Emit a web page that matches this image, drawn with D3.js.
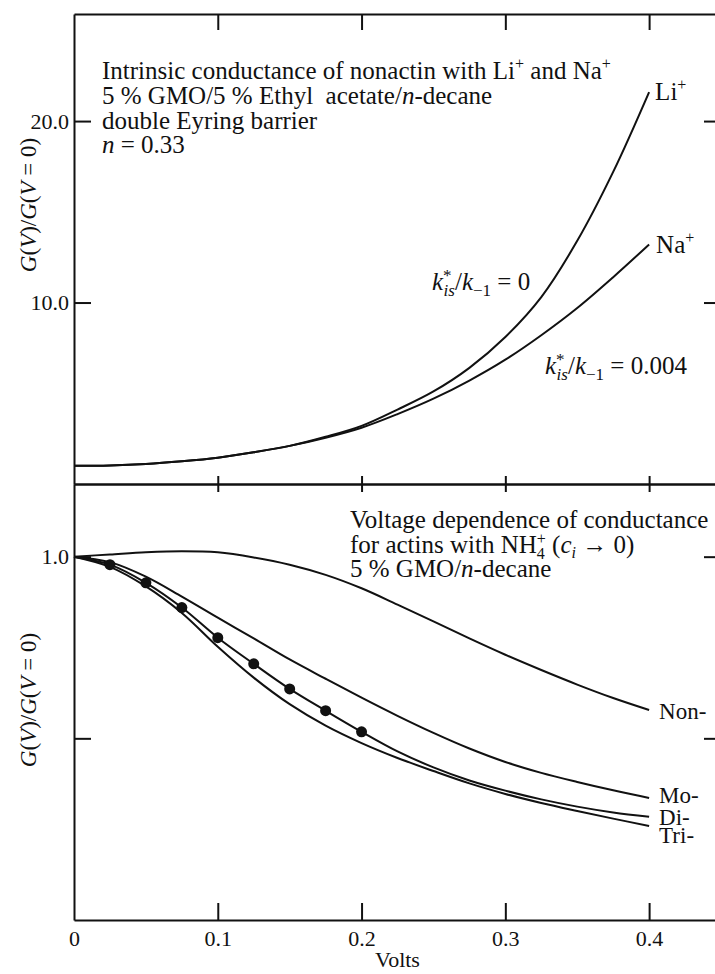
<!DOCTYPE html>
<html>
<head>
<meta charset="utf-8">
<script src="https://cdn.jsdelivr.net/npm/d3@7"></script>
<style>
  body { margin: 0; background: #fff; }
  svg { display: block; font-family: "Liberation Serif", "DejaVu Serif", serif; }
  .axis path, .axis line { stroke: #111; stroke-width: 2; }
  .axis text { font-family: "Liberation Serif", serif; fill: #111; }
  .curve { fill: none; stroke: #111; stroke-width: 2; }
</style>
</head>
<body>
<svg id="chart" width="715" height="974"></svg>
<script>
'use strict';

// voltage grid shared by all curves (volts)
var volts = [0, 0.025, 0.05, 0.075, 0.1, 0.125, 0.15, 0.175, 0.2,
             0.225, 0.25, 0.275, 0.3, 0.325, 0.35, 0.375, 0.4];

// upper panel: nonactin, G(V)/G(V=0)
var liG = [1.0, 1.02, 1.1, 1.25, 1.45, 1.75, 2.1, 2.6, 3.2, 4.1, 5.1, 6.4, 8.1, 10.3, 13.4, 17.2, 21.6];
var naG = [1.0, 1.02, 1.1, 1.25, 1.45, 1.75, 2.1, 2.55, 3.1, 3.85, 4.7, 5.7, 6.85, 8.2, 9.7, 11.4, 13.2];

// lower panel: actins with NH4+
var nonG  = [1.0, 1.006, 1.012, 1.015, 1.012, 0.998, 0.978, 0.95, 0.913, 0.868, 0.822, 0.775, 0.73, 0.688, 0.648, 0.611, 0.578];
var monoG = [1.0, 0.985, 0.945, 0.89, 0.832, 0.775, 0.717, 0.664, 0.612, 0.562, 0.515, 0.472, 0.435, 0.405, 0.38, 0.357, 0.336];
var diG   = [1.0, 0.978, 0.928, 0.86, 0.777, 0.705, 0.636, 0.576, 0.518, 0.464, 0.42, 0.384, 0.356, 0.332, 0.312, 0.296, 0.284];
var triG  = [1.0, 0.972, 0.918, 0.845, 0.752, 0.667, 0.594, 0.535, 0.487, 0.446, 0.41, 0.376, 0.347, 0.322, 0.3, 0.279, 0.259];

// measured points on the dinactin curve
var dotV = [0.025, 0.05, 0.075, 0.1, 0.125, 0.15, 0.175, 0.2];
var dotG = [0.978, 0.928, 0.86, 0.777, 0.705, 0.636, 0.576, 0.518];

var xTicks = [0, 0.1, 0.2, 0.3, 0.4];
var topTicks = [10, 20];
var botTicks = [0.5, 1.0];

var svg = d3.select("#chart");
svg.append("rect").attr("width", 715).attr("height", 974).attr("fill", "#fff");

// layout (px)
var plotL = 74, plotR = 721, plotT = 14, plotM = 484, plotB = 920;

var x = d3.scaleLinear().domain([0, 0.45]).range([plotL, plotR]);
var yTop = d3.scaleLinear().domain([0, 25.9]).range([plotM, plotT]);
var yBot = d3.scaleLinear().domain([0, 1.2]).range([plotB, plotM]);

function rich(sel, px, py, size, parts) {
  var t = sel.append("text").attr("x", px).attr("y", py)
    .attr("font-size", size).attr("fill", "#111");
  parts.forEach(function(p) {
    var ts = t.append("tspan").text(p.t);
    if (p.it) ts.attr("font-style", "italic");
    if (p.dy) ts.attr("dy", p.dy);
    if (p.dx) ts.attr("dx", p.dx);
    if (p.fs) ts.attr("font-size", p.fs);
  });
  return t;
}

// ---- axes / frame ----
var noLabel = function() { return ""; };

svg.append("g").attr("class", "axis").attr("transform", "translate(" + plotL + ",0)")
  .call(d3.axisLeft(yTop).tickValues(topTicks).tickSize(-17).tickSizeOuter(0)
        .tickPadding(5).tickFormat(d3.format(".1f")))
  .selectAll("text").attr("font-size", 22);

svg.append("g").attr("class", "axis").attr("transform", "translate(" + plotR + ",0)")
  .call(d3.axisRight(yTop).tickValues(topTicks).tickSize(-17).tickSizeOuter(0).tickFormat(noLabel));

svg.append("g").attr("class", "axis").attr("transform", "translate(0," + plotT + ")")
  .call(d3.axisTop(x).tickValues(xTicks.slice(1)).tickSize(-16).tickSizeOuter(0).tickFormat(noLabel));

svg.append("g").attr("class", "axis").attr("transform", "translate(0," + plotM + ")")
  .call(d3.axisBottom(x).tickValues(xTicks.slice(1)).tickSize(-8).tickSizeOuter(0).tickFormat(noLabel));

svg.append("g").attr("class", "axis").attr("transform", "translate(0," + plotM + ")")
  .call(d3.axisTop(x).tickValues(xTicks.slice(1)).tickSize(-8).tickSizeOuter(0).tickFormat(noLabel));

svg.append("g").attr("class", "axis").attr("transform", "translate(" + plotL + ",0)")
  .call(d3.axisLeft(yBot).tickValues(botTicks).tickSize(-17).tickSizeOuter(0)
        .tickPadding(5).tickFormat(function(d) { return d === 1 ? "1.0" : ""; }))
  .selectAll("text").attr("font-size", 22);

svg.append("g").attr("class", "axis").attr("transform", "translate(" + plotR + ",0)")
  .call(d3.axisRight(yBot).tickValues(botTicks).tickSize(-17).tickSizeOuter(0).tickFormat(noLabel));

var xAxis = svg.append("g").attr("class", "axis").attr("transform", "translate(0," + plotB + ")")
  .call(d3.axisBottom(x).tickValues(xTicks).tickSize(-17).tickSizeOuter(0).tickPadding(10)
        .tickFormat(function(d) { return d === 0 ? "0" : d3.format(".1f")(d); }));
xAxis.selectAll("text").attr("font-size", 22);
xAxis.selectAll(".tick").filter(function(d) { return d === 0; }).select("line").remove();

svg.append("text").attr("x", (plotL + plotR) / 2).attr("y", 967)
  .attr("text-anchor", "middle").attr("font-size", 22).attr("fill", "#111").text("Volts");

// rotated y titles
function yTitle(cy) {
  var g = svg.append("g").attr("transform", "translate(36," + cy + ") rotate(-90)");
  rich(g, 0, 0, 23, [
    {t: "G", it: true}, {t: "("}, {t: "V", it: true}, {t: ")/"},
    {t: "G", it: true}, {t: "("}, {t: "V", it: true}, {t: " = 0)"}
  ]).attr("text-anchor", "middle");
}
yTitle(205);
yTitle(700);

// ---- curves ----
var lineTop = d3.line().x(function(d) { return x(d[0]); }).y(function(d) { return yTop(d[1]); })
  .curve(d3.curveCatmullRom);
var lineBot = d3.line().x(function(d) { return x(d[0]); }).y(function(d) { return yBot(d[1]); })
  .curve(d3.curveCatmullRom);

[liG, naG].forEach(function(s) {
  svg.append("path").attr("class", "curve").attr("d", lineTop(d3.zip(volts, s)));
});
[nonG, monoG, diG, triG].forEach(function(s) {
  svg.append("path").attr("class", "curve").attr("d", lineBot(d3.zip(volts, s)));
});

svg.selectAll("circle.dot").data(d3.zip(dotV, dotG)).enter().append("circle")
  .attr("class", "dot")
  .attr("cx", function(d) { return x(d[0]); })
  .attr("cy", function(d) { return yBot(d[1]); })
  .attr("r", 5.5).attr("fill", "#111");

// ---- upper panel text ----
var tx = 102, fsz = 25;
rich(svg, tx, 79, fsz, [
  {t: "Intrinsic conductance of nonactin with Li"}, {t: "+", dy: -10, fs: 16},
  {t: " and Na", dy: 10}, {t: "+", dy: -10, fs: 16}
]);
rich(svg, tx, 104, fsz, [
  {t: "5 % GMO/5 % Ethyl  acetate/"}, {t: "n", it: true}, {t: "-decane"}
]).attr("xml:space", "preserve");
rich(svg, tx, 129, fsz, [{t: "double Eyring barrier"}]);
rich(svg, tx, 153, fsz, [{t: "n", it: true}, {t: " = 0.33"}]);

var lastV = volts[volts.length - 1];
rich(svg, x(lastV) + 6, yTop(liG[liG.length - 1]) + 8, fsz, [
  {t: "Li"}, {t: "+", dy: -10, fs: 16}
]);
rich(svg, x(lastV) + 7, yTop(naG[naG.length - 1]) + 9, fsz, [
  {t: "Na"}, {t: "+", dy: -10, fs: 16}
]);

function kLabel(px, py, tail) {
  rich(svg, px, py, fsz, [
    {t: "k", it: true}, {t: "*", dy: -9, fs: 17},
    {t: "is", it: true, dy: 15, dx: -8, fs: 17},
    {t: "/", dy: -6}, {t: "k", it: true},
    {t: "\u22121", dy: 6, fs: 17}, {t: " = " + tail, dy: -6}
  ]);
}
kLabel(432, 290, "0");
kLabel(545, 374, "0.004");

// ---- lower panel text ----
var lx = 350;
rich(svg, lx, 528, fsz, [{t: "Voltage dependence of conductance"}]);
rich(svg, lx, 553, fsz, [
  {t: "for actins with NH"}, {t: "4", dy: 6, fs: 16},
  {t: "+", dy: -15, dx: -8, fs: 16}, {t: " (", dy: 9},
  {t: "c", it: true}, {t: "i", it: true, dy: 5, fs: 16}, {t: " \u2192 0)", dy: -5}
]);
rich(svg, lx, 577, fsz, [{t: "5 % GMO/"}, {t: "n", it: true}, {t: "-decane"}]);

var endLabels = [
  {name: "Non-", g: nonG[nonG.length - 1], dy: 9},
  {name: "Mo-", g: monoG[monoG.length - 1], dy: 5},
  {name: "Di-", g: diG[diG.length - 1], dy: 8},
  {name: "Tri-", g: triG[triG.length - 1], dy: 17}
];
endLabels.forEach(function(l) {
  svg.append("text").attr("x", x(lastV) + 10).attr("y", yBot(l.g) + l.dy)
    .attr("font-size", 23).attr("fill", "#111").text(l.name);
});
</script>
</body>
</html>
